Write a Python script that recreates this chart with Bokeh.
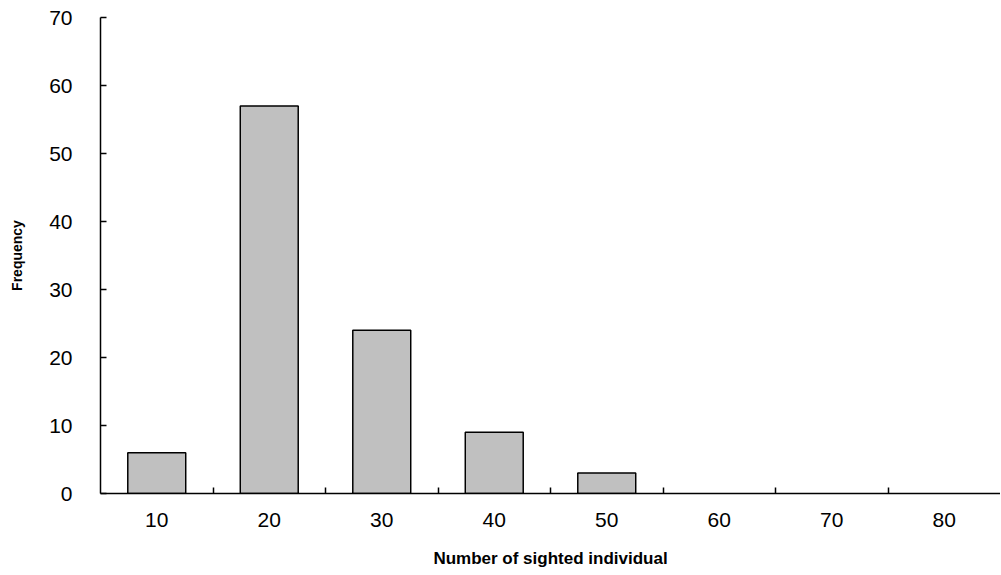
from bokeh.plotting import figure
from bokeh.models import FixedTicker, ColumnDataSource, Range1d
from bokeh.embed import file_html
from bokeh.resources import INLINE

# Data
categories = [10, 20, 30, 40, 50, 60, 70, 80]
frequency = [6, 57, 24, 9, 3, 0, 0, 0]
y_ticks = [0, 10, 20, 30, 40, 50, 60, 70]
x_separators = [15, 25, 35, 45, 55, 65, 75]

# zero-height bars are not drawn in the reference
shown = [(c, f) for c, f in zip(categories, frequency) if f > 0]
source = ColumnDataSource(data=dict(x=[c for c, _ in shown],
                                    top=[f for _, f in shown]))

p = figure(width=1000, height=575, output_backend="svg", toolbar_location=None,
           x_range=Range1d(5, 85), y_range=Range1d(0, 70),
           min_border_left=100, min_border_right=0, min_border_top=17,
           min_border_bottom=82)

p.vbar(x="x", top="top", width=5.15, source=source,
       fill_color="#c0c0c0", line_color="#000000", line_width=1.5)

p.outline_line_color = None
p.xgrid.visible = False
p.ygrid.visible = False
p.background_fill_color = "white"
p.border_fill_color = "white"

font = "Liberation Sans"

# X axis
xa = p.xaxis[0]
xa.ticker = FixedTicker(ticks=categories, minor_ticks=x_separators)
xa.major_tick_in = 0
xa.major_tick_out = 0
xa.minor_tick_in = 6
xa.minor_tick_out = 0
xa.minor_tick_line_color = "black"
xa.minor_tick_line_width = 1.5
xa.axis_line_color = "black"
xa.axis_line_width = 1.5
xa.major_label_standoff = 19
xa.major_label_text_font = font
xa.major_label_text_font_size = "21px"
xa.major_label_text_color = "black"
xa.axis_label = "Number of sighted individual"
xa.axis_label_text_font = font
xa.axis_label_text_font_size = "17px"
xa.axis_label_text_font_style = "bold"
xa.axis_label_text_color = "black"
xa.axis_label_standoff = 19

# Y axis
ya = p.yaxis[0]
ya.ticker = FixedTicker(ticks=y_ticks)
ya.minor_tick_line_color = None
ya.major_tick_in = 6
ya.major_tick_out = 0
ya.major_tick_line_color = "black"
ya.major_tick_line_width = 1.5
ya.axis_line_color = "black"
ya.axis_line_width = 1.5
ya.major_label_standoff = 28
ya.major_label_text_font = font
ya.major_label_text_font_size = "21px"
ya.major_label_text_color = "black"
ya.axis_label = "Frequency"
ya.axis_label_text_font = font
ya.axis_label_text_font_size = "14px"
ya.axis_label_text_font_style = "bold"
ya.axis_label_text_color = "black"
ya.axis_label_standoff = 21

open("out.html", "w").write(file_html(p, INLINE))
